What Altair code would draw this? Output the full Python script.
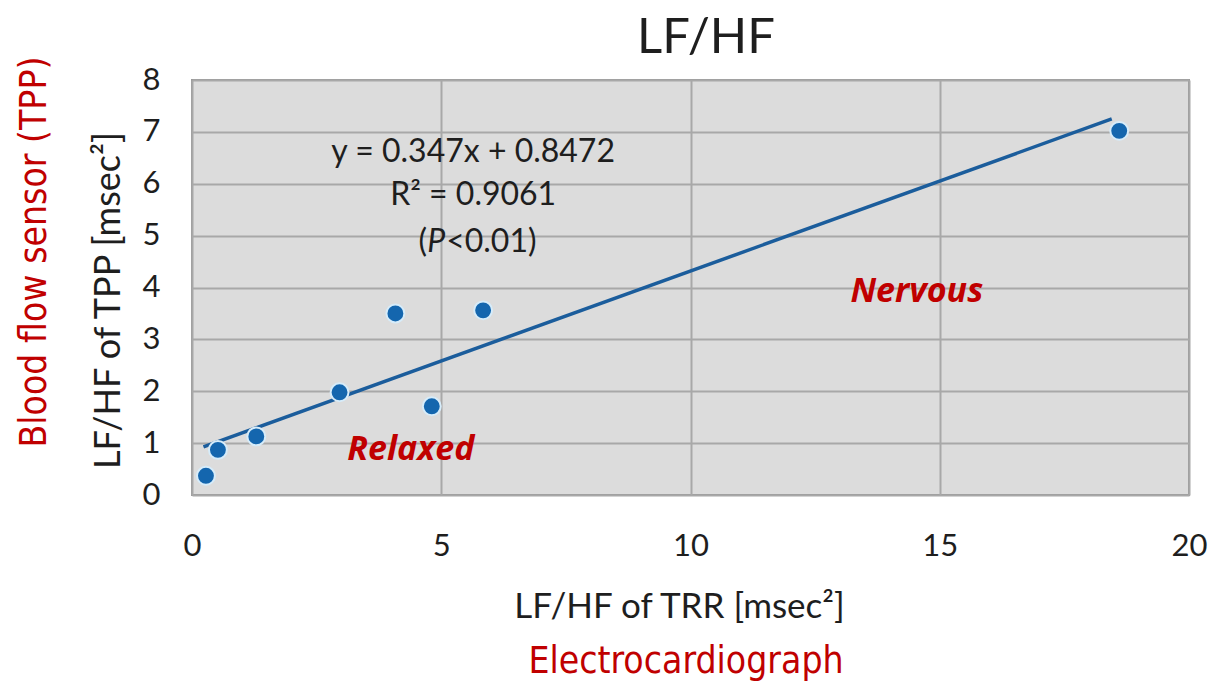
import altair as alt
import pandas as pd

# Paired LF/HF ratios: electrocardiograph (TRR) vs blood flow sensor (TPP)
lf_hf_trr = [0.28, 0.52, 1.29, 2.96, 4.81, 4.08, 5.84, 18.6]
lf_hf_tpp = [0.37, 0.87, 1.13, 1.98, 1.71, 3.50, 3.56, 7.02]

# Linear fit reported on the chart
slope = 0.347
intercept = 0.8472
r_squared = "0.9061"

x_ticks = [0, 5, 10, 15, 20]
y_ticks = [0, 1, 2, 3, 4, 5, 6, 7, 8]

W, H = 997, 415
TEXT_FONT = "Lato"
RED = "#c00000"
NARROW = "'DejaVu Sans Condensed', 'Liberation Sans Narrow', 'Roboto Condensed', 'DejaVu Sans', sans-serif"

points = pd.DataFrame({"trr": lf_hf_trr, "tpp": lf_hf_tpp})
fit_x = [min(lf_hf_trr) - 0.05, max(lf_hf_trr) - 0.15]
fit = pd.DataFrame({"trr": fit_x, "tpp": [slope * v + intercept for v in fit_x]})

x_scale = alt.Scale(domain=[0, 20], nice=False, zero=False)
y_scale = alt.Scale(domain=[0, 8], nice=False, zero=False)

x_enc = alt.X(
    "trr:Q", scale=x_scale,
    axis=alt.Axis(
        values=x_ticks, title="LF/HF of TRR [msec²]", grid=True, ticks=False,
        domain=False, labelFlush=False, labelFontSize=31, labelPadding=36,
        labelFont=TEXT_FONT, labelColor="#1e1e1e", titleFont=TEXT_FONT,
        titleFontSize=35, titleFontWeight="normal", titleColor="#1e1e1e",
        titleX=487, titleY=111, titleBaseline="middle", titleAlign="center",
    ),
)
y_enc = alt.Y(
    "tpp:Q", scale=y_scale,
    axis=alt.Axis(
        values=y_ticks, title="LF/HF of TPP [msec²]", grid=True, ticks=False,
        domain=False, labelFlush=False, labelFontSize=31, labelPadding=32,
        labelFont=TEXT_FONT, labelColor="#1e1e1e", titleFont=TEXT_FONT,
        titleFontSize=36, titleFontWeight="normal", titleColor="#1e1e1e",
        titleX=-84, titleY=220, titleBaseline="middle", titleAlign="center",
    ),
)

line = alt.Chart(fit).mark_line(color="#1b5d9c", strokeWidth=3.5).encode(x=x_enc, y=y_enc)
dots = alt.Chart(points).mark_point(
    filled=True, shape="circle", size=320, color="#1466ae",
    stroke="#d6ecfa", strokeWidth=2, opacity=1,
).encode(x="trr:Q", y="tpp:Q")

# Equation and statistics
eq = pd.DataFrame({
    "trr": [5.64, 5.64],
    "tpp": [6.61, 5.78],
    "label": [f"y = {slope}x + {intercept}", f"R² = {r_squared}"],
})
eq_text = alt.Chart(eq).mark_text(
    font=TEXT_FONT, fontSize=32, color="#1e1e1e", baseline="middle", align="center"
).encode(x="trr:Q", y="tpp:Q", text="label:N")

p_row = pd.DataFrame({"trr": [5.64], "tpp": [4.87]})
p_open = alt.Chart(p_row).mark_text(
    text="(", font=TEXT_FONT, fontSize=32, color="#1e1e1e", baseline="middle",
    align="right", dx=-46,
).encode(x="trr:Q", y="tpp:Q")
p_ital = alt.Chart(p_row).mark_text(
    text="P", font=TEXT_FONT, fontSize=32, fontStyle="italic", color="#1e1e1e",
    baseline="middle", align="left", dx=-46,
).encode(x="trr:Q", y="tpp:Q")
p_rest = alt.Chart(p_row).mark_text(
    text="<0.01)", font=TEXT_FONT, fontSize=32, color="#1e1e1e", baseline="middle",
    align="left", dx=-27,
).encode(x="trr:Q", y="tpp:Q")

# State labels inside the plot
states = pd.DataFrame({"trr": [14.54, 4.39], "tpp": [3.91, 0.87], "label": ["Nervous", "Relaxed"]})
state_text = alt.Chart(states).mark_text(
    font="Open Sans", fontSize=34, fontWeight="bold", fontStyle="italic",
    color=RED, baseline="middle", align="center",
).encode(x="trr:Q", y="tpp:Q", text="label:N")

# Chart title and sensor captions
title = alt.Chart(pd.DataFrame({"t": ["LF/HF"]})).mark_text(
    font=TEXT_FONT, fontSize=49, color="#1e1e1e", baseline="middle", align="center"
).encode(x=alt.value(514), y=alt.value(-42), text="t:N")

sensor_y = alt.Chart(pd.DataFrame({"t": ["Blood flow sensor (TPP)"]})).mark_text(
    font=NARROW, fontSize=37, fontWeight=500, color=RED, baseline="middle",
    align="center", angle=270,
).encode(x=alt.value(-157), y=alt.value(172), text="t:N")

sensor_x = alt.Chart(pd.DataFrame({"t": ["Electrocardiograph"]})).mark_text(
    font=NARROW, fontSize=37, fontWeight=500, color=RED, baseline="middle", align="center"
).encode(x=alt.value(494), y=alt.value(582), text="t:N")

chart = alt.layer(
    line, dots, eq_text, p_open, p_ital, p_rest, state_text, title, sensor_y, sensor_x
).properties(
    width=W, height=H,
    autosize=alt.AutoSizeParams(type="none"),
    padding={"left": 192, "top": 80, "right": 22, "bottom": 188},
    background="white",
).configure_view(
    fill="#dcdcdc", stroke="#9a9a9a", strokeWidth=2,
).configure_axis(
    gridColor="#a8a8a8", gridWidth=2, gridOpacity=1,
)

chart.save("out.html", embed_options={"renderer": "svg", "actions": False})
